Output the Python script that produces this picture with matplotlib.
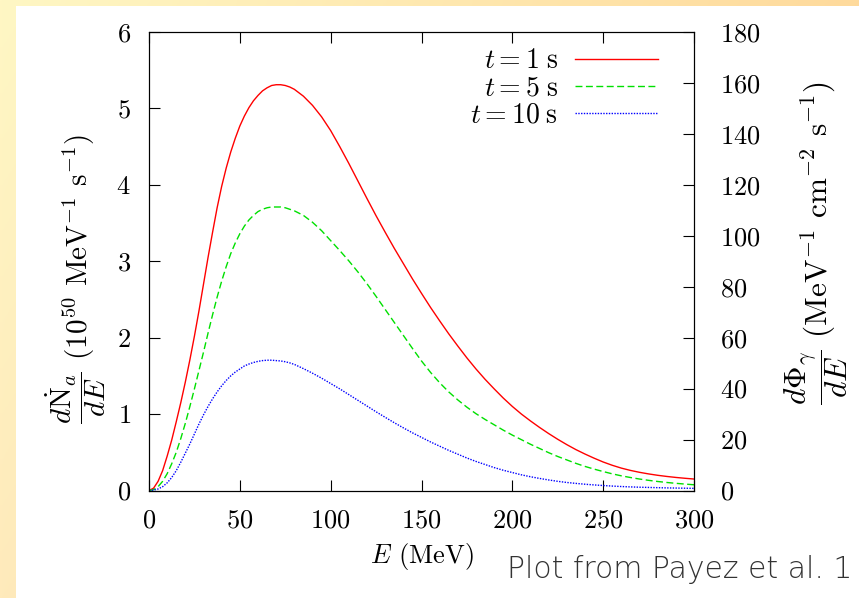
import numpy as np
import matplotlib
matplotlib.use("Agg")
import matplotlib.pyplot as plt
from matplotlib.patches import Rectangle

plt.rcParams['font.family'] = 'serif'
plt.rcParams['font.serif'] = ['cmr10', 'DejaVu Serif']
plt.rcParams['mathtext.fontset'] = 'cm'
plt.rcParams['axes.formatter.use_mathtext'] = True

# energies (MeV) and spectra, 1e50 MeV^-1 s^-1
energy = [0, 2.5, 5, 7.5, 10, 12.5, 15, 17.5, 20, 22.5, 25, 27.5, 30, 32.5, 35, 37.5,
          40, 42.5, 45, 47.5, 50, 52.5, 55, 57.5, 60, 62.5, 65, 67.5, 70, 72.5, 75,
          77.5, 80, 85, 90, 95, 100, 105, 110, 115, 120, 125, 130, 135, 140, 145,
          150, 155, 160, 165, 170, 175, 180, 185, 190, 195, 200, 205, 210, 215, 220,
          225, 230, 235, 240, 245, 250, 255, 260, 265, 270, 275, 280, 285, 290, 295, 300]
t1 = [0, 0.03, 0.12, 0.26, 0.45, 0.66, 0.90, 1.15, 1.42, 1.71, 2.02, 2.35, 2.70, 3.05,
      3.38, 3.70, 3.98, 4.22, 4.43, 4.61, 4.77, 4.90, 5.01, 5.10, 5.17, 5.23, 5.27,
      5.30, 5.31, 5.31, 5.30, 5.28, 5.25, 5.16, 5.04, 4.89, 4.71, 4.50, 4.28, 4.05,
      3.82, 3.595, 3.38, 3.17, 2.97, 2.77, 2.58, 2.395, 2.22, 2.05, 1.89, 1.735, 1.59,
      1.455, 1.33, 1.21, 1.10, 1.00, 0.91, 0.825, 0.745, 0.67, 0.60, 0.535, 0.477,
      0.423, 0.373, 0.33, 0.293, 0.263, 0.238, 0.217, 0.199, 0.184, 0.171, 0.16, 0.15]
t5 = [0, 0.01, 0.05, 0.12, 0.22, 0.35, 0.50, 0.68, 0.88, 1.10, 1.33, 1.57, 1.81, 2.06,
      2.30, 2.53, 2.74, 2.93, 3.10, 3.24, 3.36, 3.46, 3.54, 3.60, 3.65, 3.68, 3.70,
      3.71, 3.71, 3.71, 3.70, 3.68, 3.66, 3.60, 3.51, 3.40, 3.27, 3.14, 3.005, 2.86,
      2.705, 2.54, 2.37, 2.20, 2.03, 1.86, 1.695, 1.545, 1.41, 1.29, 1.185, 1.09, 1.005,
      0.93, 0.86, 0.79, 0.725, 0.665, 0.605, 0.55, 0.495, 0.445, 0.40, 0.355, 0.315,
      0.28, 0.248, 0.218, 0.192, 0.17, 0.15, 0.133, 0.118, 0.105, 0.094, 0.084, 0.075]
t10 = [0, 0.005, 0.02, 0.05, 0.10, 0.17, 0.26, 0.37, 0.49, 0.61, 0.74, 0.87, 0.99,
       1.10, 1.20, 1.29, 1.37, 1.44, 1.50, 1.55, 1.59, 1.63, 1.655, 1.675, 1.69, 1.70,
       1.705, 1.705, 1.70, 1.695, 1.685, 1.67, 1.65, 1.595, 1.535, 1.47, 1.40, 1.33,
       1.255, 1.18, 1.105, 1.03, 0.958, 0.887, 0.82, 0.755, 0.695, 0.635, 0.58, 0.525,
       0.475, 0.425, 0.38, 0.34, 0.30, 0.265, 0.235, 0.205, 0.18, 0.158, 0.138, 0.12,
       0.105, 0.093, 0.082, 0.073, 0.065, 0.058, 0.052, 0.047, 0.043, 0.04, 0.037,
       0.034, 0.032, 0.03, 0.028]

series = [(t1, r'$t = 1\;\mathrm{s}$', '#ff0000', '-'),
          (t5, r'$t = 5\;\mathrm{s}$', '#00e000', (0, (5, 2.5))),
          (t10, r'$t = 10\;\mathrm{s}$', '#0000ff', (0, (1, 1)))]

fig = plt.figure(figsize=(8.59, 5.98), dpi=100)

# yellow slide background with white panel
bg = fig.add_axes([0, 0, 1, 1], zorder=-10)
gx, gy = np.meshgrid(np.linspace(0, 1, 200), np.linspace(0, 1, 200))
top_left = np.array([255, 247, 196]) / 255
top_right = np.array([254, 218, 156]) / 255
bot_left = np.array([255, 234, 187]) / 255
img = (top_left[None, None, :]
       + gx[..., None] * (top_right - top_left)[None, None, :]
       + gy[..., None] * (bot_left - top_left)[None, None, :])
bg.imshow(np.clip(img, 0, 1), extent=[0, 1, 0, 1], aspect='auto', origin='upper')
bg.add_patch(Rectangle((16 / 859, 0), 1, 1 - 6 / 598, color='white', lw=0))
bg.set_xlim(0, 1)
bg.set_ylim(0, 1)
bg.axis('off')

ax = fig.add_axes([149 / 859, 1 - 490.5 / 598, 545 / 859, 458.5 / 598])
for vals, lab, col, ls in series:
    ax.plot(energy, vals, color=col, linestyle=ls, linewidth=1.0, label=lab)

ax.set_xlim(0, 300)
ax.set_ylim(0, 6)
ax.set_xticks(np.arange(0, 301, 50))
ax.set_yticks(np.arange(0, 7, 1))
ax.tick_params(axis='x', direction='in', top=True, length=8, width=0.8,
               labelsize=19, pad=13)
ax.tick_params(axis='y', direction='in', right=False, length=8, width=0.8,
               labelsize=19, pad=13)
for s in ax.spines.values():
    s.set_linewidth(0.8)

ax.set_xlabel(r'$E$ (MeV)', fontsize=19, labelpad=6)
ax.set_ylabel(r'$\dfrac{d\dot{\mathrm{N}}_a}{dE}$ (10$^{50}$ MeV$^{-1}$ s$^{-1}$)',
              fontsize=21)
ax.yaxis.set_label_coords(-0.076, 0.46)

ax2 = ax.twinx()
ax2.set_ylim(0, 180)
ax2.set_yticks(np.arange(0, 181, 20))
ax2.tick_params(axis='y', direction='in', length=8, width=0.8, labelsize=19, pad=19)
ax2.set_ylabel(r'$\dfrac{d\Phi_\gamma}{dE}$ (MeV$^{-1}$ cm$^{-2}$ s$^{-1}$)',
               fontsize=22.5, rotation=90)
ax2.yaxis.set_label_coords(1.162, 0.54)

leg = ax.legend(loc='upper right', bbox_to_anchor=(0.934, 0.965), frameon=False,
                markerfirst=False, fontsize=20, handlelength=3.0, handletextpad=0.6,
                labelspacing=0.03, borderpad=0, borderaxespad=0)

fig.text(507 / 859, 1 - 578 / 598, 'Plot from Payez et al. 1', fontsize=21.5,
         family='DejaVu Sans', fontweight='ultralight', color='#333333',
         va='baseline')

fig.savefig('out.png', dpi=100)
